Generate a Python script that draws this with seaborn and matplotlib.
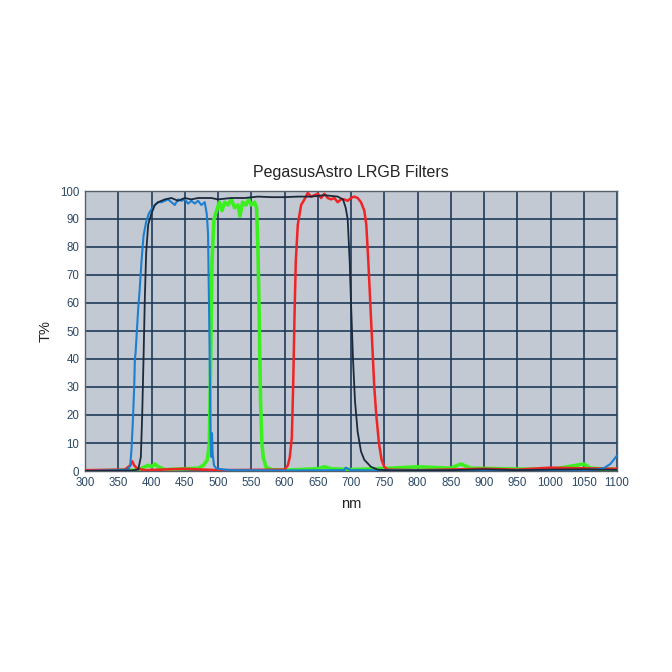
import matplotlib
matplotlib.use("Agg")
import matplotlib.pyplot as plt
import seaborn as sns
import pandas as pd

# ---- data ----
blue_nm = [300, 350, 365, 368, 370, 372, 374, 375, 376, 378, 380, 382, 385, 388, 392, 396, 400, 405,
           410, 415, 420, 425, 430, 435, 440, 445, 450, 455, 460, 465, 470, 475, 480, 483, 485, 487,
           489, 490, 491, 492, 494, 497, 500, 510, 520, 530, 600, 690, 692, 700, 800, 900, 1000,
           1050, 1070, 1080, 1090, 1100]
blue_t = [0, 0.3, 0.5, 2, 8, 18, 30, 40, 42, 50, 58, 64, 75, 84, 89, 92, 93.5, 95,
          96, 96, 96.5, 97, 96, 95, 97, 96.5, 97, 95.5, 96.5, 95.5, 96.5, 95, 96, 92, 85, 50,
          10, 5, 13.5, 6, 2, 1, 0.8, 0.5, 0.3, 0.3, 0.2, 0.3, 1.2, 0.3, 0.2, 0.2, 0.2,
          0.3, 0.6, 1, 2.5, 5.5]

black_nm = [300, 370, 380, 384, 386, 388, 390, 392, 395, 400, 405, 410, 420, 430, 440, 450, 460,
            470, 480, 490, 500, 520, 540, 560, 580, 600, 620, 640, 660, 680, 688, 692, 695, 698,
            700, 703, 706, 710, 715, 720, 730, 740, 760, 850, 900, 950, 1000, 1050, 1100]
black_t = [0, 0.2, 0.5, 5, 20, 40, 62, 78, 88, 92, 95, 96, 97, 97.5, 96.5, 97.5, 97,
           97.5, 97.5, 97.5, 97, 97.5, 97.5, 98, 97.8, 97.8, 98, 98, 98.5, 98, 97, 94, 90, 75,
           60, 40, 25, 14, 7, 4, 1.5, 0.5, 0.2, 0.3, 0.6, 0.3, 0.5, 0.6, 0.4]

green_nm = [300, 380, 390, 395, 400, 405, 410, 420, 450, 470, 478, 484, 487, 489, 491, 494, 498,
            502, 506, 510, 515, 520, 525, 530, 533, 537, 542, 546, 550, 555, 558, 560, 562, 564,
            566, 568, 572, 580, 600, 650, 660, 670, 700, 760, 800, 850, 865, 880, 1000, 1050,
            1060, 1100]
green_t = [0, 0.3, 1.5, 2, 1.5, 2.5, 1.5, 0.5, 0.8, 1, 2, 4, 10, 40, 75, 90, 93,
           96, 93, 96, 95, 97, 94, 95, 91, 96, 95, 97, 95, 96, 94, 80, 55, 25,
           10, 5, 1.5, 0.5, 0.3, 0.8, 1.5, 0.8, 0.5, 1, 1.5, 1, 2.5, 1, 0.5, 2.5,
           1, 0.5]

red_nm = [300, 360, 368, 371, 374, 378, 390, 450, 500, 600, 605, 608, 611, 613, 615, 617, 620,
          625, 630, 635, 640, 645, 650, 655, 660, 665, 670, 675, 680, 685, 690, 695, 700, 705,
          710, 715, 720, 723, 726, 729, 732, 735, 738, 742, 746, 750, 755, 800, 900, 950, 1000,
          1040, 1100]
red_t = [0.3, 0.5, 2, 3.5, 2, 1, 0.3, 0.8, 0.3, 0.5, 2, 5, 12, 30, 55, 75, 88,
         95, 97, 99.3, 98, 98.5, 99, 97.5, 99, 97.5, 97, 97.5, 96, 97, 97, 96.5, 97.5, 98,
         97.5, 96, 93, 88, 75, 60, 45, 30, 20, 10, 4, 1.5, 0.5, 0.3, 0.8, 0.5, 1.2,
         1, 0.8]

x_ticks = list(range(300, 1101, 50))
y_ticks = list(range(0, 101, 10))

sns.set_theme(style="white")
plt.rcParams['font.family'] = ['Liberation Sans', 'DejaVu Sans']

fig = plt.figure(figsize=(6.72, 6.72), dpi=100)
ax = fig.add_axes([85 / 672, 1 - 471 / 672, 532 / 672, 280 / 672])
ax.set_facecolor('#c2c9d3')

series = [
    (red_nm, red_t, '#f02424', 1.8, 3),
    (green_nm, green_t, '#3cf020', 2.6, 2),
    (blue_nm, blue_t, '#1b7fd2', 1.5, 4),
    (black_nm, black_t, '#1a2a3c', 1.3, 5),
]
for nm, t, c, lw, z in series:
    df = pd.DataFrame({'nm': nm, 'T': t})
    sns.lineplot(data=df, x='nm', y='T', ax=ax, color=c, linewidth=lw, zorder=z, sort=False)

ax.set_xlim(300, 1100)
ax.set_ylim(0, 100)
ax.set_xticks(x_ticks)
ax.set_yticks(y_ticks)
ax.grid(True, color='#1f3b5a', linewidth=1.2)
ax.set_axisbelow(True)
tick_col = '#2c4866'
ax.tick_params(axis='x', length=0, labelsize=8.3, colors=tick_col, pad=4)
ax.tick_params(axis='y', length=0, labelsize=8.3, colors=tick_col, pad=4)
for s in ax.spines.values():
    s.set_color('#55606a')
    s.set_linewidth(1.0)

ax.set_xlabel('nm', fontsize=10.5, color='#222222', labelpad=6)
ax.set_ylabel('T%', fontsize=10.5, color='#222222', labelpad=5)
ax.set_title('PegasusAstro LRGB Filters', fontsize=11.5, color='#222222', pad=10)

fig.savefig('out.png', dpi=100, facecolor='white')
